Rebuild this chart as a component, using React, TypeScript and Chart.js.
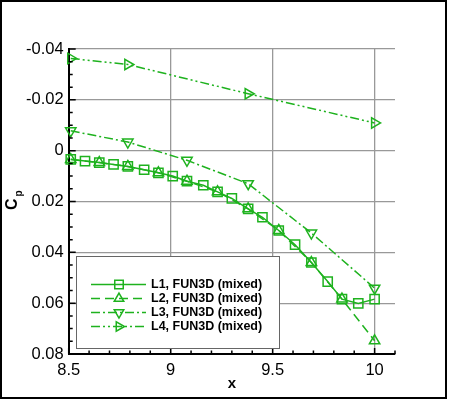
import { useEffect, useRef } from "react";
import { Chart, registerables } from "chart.js";
import { drawPoint } from "chart.js/helpers";

Chart.register(...registerables);

// L1 (every station)
const l1X = [8.51, 8.58, 8.65, 8.72, 8.79, 8.87, 8.94, 9.01, 9.08, 9.16, 9.23, 9.3, 9.38, 9.45, 9.53, 9.61, 9.69, 9.77, 9.84, 9.92, 10.0];
const l1Y = [0.0034, 0.0041, 0.0047, 0.0054, 0.0062, 0.0075, 0.0087, 0.01, 0.012, 0.0136, 0.0162, 0.0188, 0.0229, 0.0262, 0.0314, 0.037, 0.044, 0.0515, 0.0584, 0.0601, 0.0584];

const l2X = [8.51, 8.65, 8.79, 8.94, 9.08, 9.23, 9.38, 9.53, 9.69, 9.84, 10.0];
const l2Y = [0.0035, 0.0047, 0.0062, 0.0087, 0.012, 0.0162, 0.0229, 0.0314, 0.044, 0.0584, 0.0748];

const l3X = [8.51, 8.79, 9.08, 9.38, 9.69, 10.0];
const l3Y = [-0.0078, -0.0034, 0.0038, 0.013, 0.0324, 0.0541];

const l4X = [8.51, 8.79, 9.38, 10.0];
const l4Y = [-0.0363, -0.0339, -0.0224, -0.0109];

const seriesNames = ["L1, FUN3D (mixed)", "L2, FUN3D (mixed)", "L3, FUN3D (mixed)", "L4, FUN3D (mixed)"];

const xTicks = [8.5, 9, 9.5, 10];
const xTickLabels = ["8.5", "9", "9.5", "10"];
const yTicks = [-0.04, -0.02, 0, 0.02, 0.04, 0.06, 0.08];
const yTickLabels = ["-0.04", "-0.02", "0", "0.02", "0.04", "0.06", "0.08"];

const GREEN = "rgb(30,178,30)";
const FONT = "'Liberation Sans', Arial, Helvetica, sans-serif";

const toPoints = (xs: number[], ys: number[]) => xs.map((x, i) => ({ x, y: ys[i] }));

const styles = [
  { pointStyle: "rect", rotation: 0, radius: 6.5, dash: [] as number[] },
  { pointStyle: "triangle", rotation: 0, radius: 6, dash: [9, 5] },
  { pointStyle: "triangle", rotation: 180, radius: 6, dash: [9, 3, 2, 3] },
  { pointStyle: "triangle", rotation: 90, radius: 6, dash: [9, 3, 2, 3, 2, 3] },
];

const decor = {
  id: "decor",
  afterDraw(chart: any) {
    const { ctx, chartArea: a, scales } = chart;
    const xs = scales.x;
    const ys = scales.y;
    ctx.save();

    // inward ticks
    ctx.strokeStyle = "#000";
    ctx.lineWidth = 1.5;
    ctx.beginPath();
    for (let i = 0; i <= 16; i++) {
      const v = 8.5 + i * 0.1;
      const px = xs.getPixelForValue(v);
      const len = i % 5 === 0 ? 6 : 3.5;
      ctx.moveTo(px, a.bottom);
      ctx.lineTo(px, a.bottom - len);
    }
    for (let i = 0; i <= 24; i++) {
      const v = -0.04 + i * 0.005;
      const py = ys.getPixelForValue(v);
      const len = i % 4 === 0 ? 7 : 4;
      ctx.moveTo(a.left, py);
      ctx.lineTo(a.left + len, py);
    }
    ctx.stroke();

    // legend
    const lx = 76.5, ly = 256.5, lw = 203, lh = 92;
    ctx.fillStyle = "#fff";
    ctx.fillRect(lx, ly, lw, lh);
    ctx.strokeStyle = "#666";
    ctx.lineWidth = 1;
    ctx.strokeRect(lx, ly, lw, lh);
    ctx.font = `bold 12.5px ${FONT}`;
    ctx.textBaseline = "middle";
    ctx.textAlign = "left";
    seriesNames.forEach((name, i) => {
      const y = 284.5 + i * 14;
      const s = styles[i];
      ctx.strokeStyle = GREEN;
      ctx.lineWidth = 1.5;
      ctx.setLineDash(s.dash);
      ctx.beginPath();
      ctx.moveTo(91, y);
      ctx.lineTo(146, y);
      ctx.stroke();
      ctx.setLineDash([]);
      ctx.fillStyle = "rgba(0,0,0,0)";
      drawPoint(ctx, { pointStyle: s.pointStyle as any, rotation: s.rotation, radius: s.radius - 0.5, borderWidth: 1.5 }, 119, y);
      ctx.fillStyle = "#000";
      ctx.fillText(name, 151, y + 0.5);
    });

    // axis titles
    ctx.fillStyle = "#000";
    ctx.textAlign = "center";
    ctx.textBaseline = "alphabetic";
    ctx.font = `bold 15px ${FONT}`;
    ctx.fillText("x", (a.left + a.right) / 2, 388);

    ctx.translate(17, 210);
    ctx.rotate(-Math.PI / 2);
    ctx.textAlign = "left";
    ctx.font = `bold 16px ${FONT}`;
    ctx.fillText("C", 0, 0);
    ctx.font = `bold 10px ${FONT}`;
    ctx.fillText("p", 13.5, 5);

    ctx.restore();

    // outer frame
    ctx.save();
    ctx.strokeStyle = "#000";
    ctx.lineWidth = 2;
    ctx.strokeRect(1, 1, 445, 397);
    ctx.restore();
  },
};

export default function App() {
  const ref = useRef<HTMLCanvasElement>(null);

  useEffect(() => {
    document.body.style.margin = "0";
    if (!ref.current) return;
    const sets = [toPoints(l1X, l1Y), toPoints(l2X, l2Y), toPoints(l3X, l3Y), toPoints(l4X, l4Y)];
    const chart = new Chart(ref.current, {
      type: "scatter",
      data: {
        datasets: sets.map((d, i) => ({
          label: seriesNames[i],
          data: d,
          showLine: true,
          borderColor: GREEN,
          borderWidth: 1.5,
          borderDash: styles[i].dash,
          pointStyle: styles[i].pointStyle as any,
          rotation: styles[i].rotation,
          pointRadius: styles[i].radius,
          pointBorderWidth: 1.5,
          pointBorderColor: GREEN,
          pointBackgroundColor: "rgba(0,0,0,0)",
          clip: false as any,
        })),
      },
      options: {
        animation: false,
        responsive: true,
        maintainAspectRatio: false,
        layout: { padding: { left: 0, top: 49, right: 55, bottom: 0 } },
        plugins: { legend: { display: false }, tooltip: { enabled: false } },
        scales: {
          x: {
            type: "linear",
            min: 8.5,
            max: 10.1,
            afterFit: (s: any) => {
              s.height = 46;
            },
            afterBuildTicks: (s: any) => {
              s.ticks = xTicks.map((v) => ({ value: v }));
            },
            ticks: {
              padding: 7,
              color: "#000",
              font: { family: FONT, size: 16.5 },
              callback: (v: any) => xTickLabels[xTicks.indexOf(Number(v))] ?? "",
            },
            grid: { color: "#999", lineWidth: 1.3, drawTicks: false },
            border: { display: true, color: "#000", width: 2 },
          },
          y: {
            type: "linear",
            reverse: true,
            min: -0.04,
            max: 0.08,
            afterFit: (s: any) => {
              s.width = 68.7;
            },
            afterBuildTicks: (s: any) => {
              s.ticks = yTicks.map((v) => ({ value: v }));
            },
            ticks: {
              padding: 5,
              color: "#000",
              font: { family: FONT, size: 16.5 },
              callback: (v: any) => {
                const i = yTicks.findIndex((t) => Math.abs(t - Number(v)) < 1e-9);
                return i >= 0 ? yTickLabels[i] : "";
              },
            },
            grid: { color: "#999", lineWidth: 1.3, drawTicks: false },
            border: { display: true, color: "#000", width: 2 },
          },
        },
      },
      plugins: [decor],
    });
    return () => {
      chart.destroy();
    };
  }, []);

  return (
    <div style={{ position: "relative", width: 450, height: 400 }}>
      <canvas ref={ref} />
    </div>
  );
}
